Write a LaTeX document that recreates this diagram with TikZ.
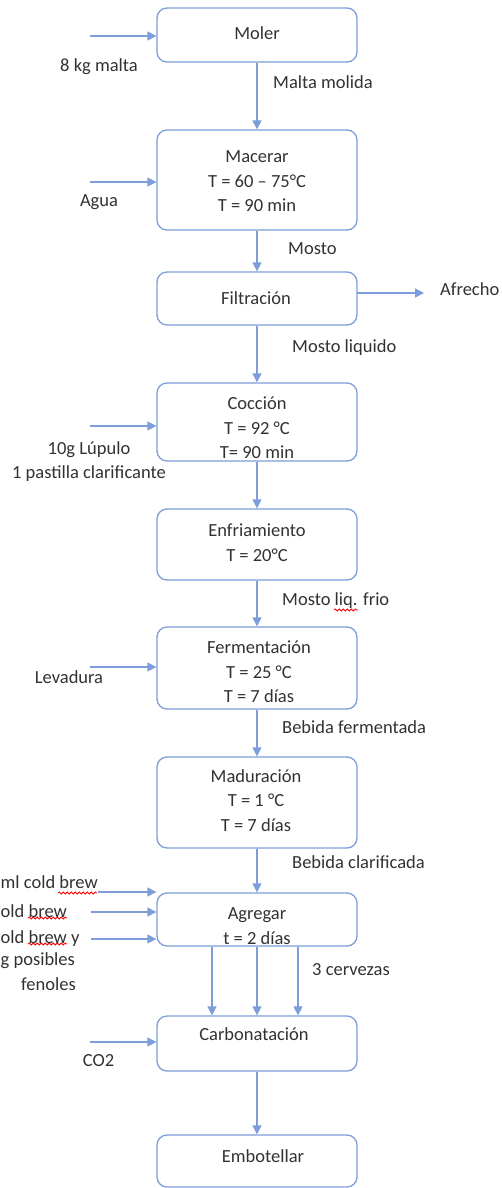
\documentclass[tikz,border=0pt]{standalone}
\usepackage{fontspec}
\setmainfont{Carlito}
\usetikzlibrary{arrows.meta,calc,decorations.pathmorphing}
\definecolor{flow}{RGB}{125,158,218}
\definecolor{txt}{RGB}{50,50,50}
\begin{document}
\begin{tikzpicture}[x=1pt,y=-1pt,
  box/.style={draw=flow, line width=1.3pt, rounded corners=10pt, minimum width=200pt, inner sep=0pt},
  lbl/.style={text=txt, font=\fontsize{18.5}{24.5}\selectfont, inner sep=0pt},
  one/.style={lbl, yshift=-2.5pt},
  arr/.style={draw=flow, line width=1.3pt, -{Triangle[length=9pt,width=9pt]}},
  wavy/.style={draw=red, line width=0.8pt, decorate, decoration={snake, segment length=4pt, amplitude=1.1pt}}
]
\fill[white] (0,0) rectangle (501,1188);
\useasboundingbox (0,0) rectangle (501,1188);

% process boxes
\node[box, minimum height=54pt] (moler) at (257,35) {};
\node[box, minimum height=100pt] (macerar) at (257,180) {};
\node[box, minimum height=53pt] (filtr) at (257,298.5) {};
\node[box, minimum height=78pt] (coccion) at (257,422) {};
\node[box, minimum height=71pt] (enfri) at (257,544.5) {};
\node[box, minimum height=82pt] (ferm) at (257,668) {};
\node[box, minimum height=91pt] (madur) at (257,802.5) {};
\node[box, minimum height=53pt] (agreg) at (257,919.5) {};
\node[box, minimum height=55pt] (carbon) at (257,1043.5) {};
\node[box, minimum height=52pt] (embot) at (257,1161) {};

% box texts
\node[one, anchor=mid] (tmoler) at (257,35) {Moler};
\node[lbl, align=center] (tmacerar) at (257,181.5) {Macerar\\T = 60 – 75°C\\T = 90 min};
\node[one, anchor=mid] (tfiltr) at (256,300) {Filtración};
\node[lbl, align=center] (tcoccion) at (257,428) {Cocción\\T = 92 °C\\T= 90 min};
\node[lbl, align=center] (tenfri) at (257,542.5) {Enfriamiento\\T = 20°C};
\node[lbl, align=center] (tferm) at (259,672) {Fermentación\\T = 25 °C\\T = 7 días};
\node[lbl, align=center] (tmadur) at (256,800.5) {Maduración\\T = 1 °C\\T = 7 días};
\node[lbl, align=center] (tagreg) at (257,926) {Agregar\\t = 2 días};
\node[one, anchor=mid] (tcarbon) at (254,1036) {Carbonatación};
\node[one, anchor=mid] (tembot) at (263,1158) {Embotellar};

% main flow
\draw[arr] (moler) -- (macerar);
\draw[arr] (macerar) -- (filtr);
\draw[arr] (filtr) -- (coccion);
\draw[arr] (coccion) -- (enfri);
\draw[arr] (enfri) -- (ferm);
\draw[arr] (ferm) -- (madur);
\draw[arr] (madur) -- (agreg);
\draw[arr] ($(agreg.south)+(-45,0)$) -- ($(carbon.north)+(-45,0)$);
\draw[arr] (agreg) -- (carbon);
\draw[arr] ($(agreg.south)+(41,0)$) -- ($(carbon.north)+(41,0)$);
\draw[arr] (carbon) -- (embot);

% flow labels
\node[one, anchor=mid west] (lmalta) at (273,84) {Malta molida};
\node[one, anchor=mid west] (lmosto) at (288,250) {Mosto};
\node[one, anchor=mid west] (lmliq) at (292,348) {Mosto liquido};
\node[one, anchor=mid west] (lmfrio) at (282,601) {Mosto liq. frio};
\node[one, anchor=mid west] (lbfer) at (282,729) {Bebida fermentada};
\node[one, anchor=mid west] (lbcla) at (292,864) {Bebida clarificada};
\node[one, anchor=mid west] (lcerv) at (312,971) {3 cervezas};

% output
\node[one, anchor=mid west] (afrecho) at (440,291) {Afrecho};
\coordinate (afr0) at (357,293);
\coordinate (afr1) at (424,293);
\draw[arr] (afr0) -- (afr1);

% inputs
\coordinate (in1) at (90,36);
\draw[arr] (in1) -- (in1 -| moler.west);
\node[one, anchor=mid] (malta) at (99,67) {8 kg malta};

\coordinate (in2) at (90,182);
\draw[arr] (in2) -- (in2 -| macerar.west);
\node[one, anchor=mid] (agua) at (99,202) {Agua};

\coordinate (in3) at (90,426);
\draw[arr] (in3) -- (in3 -| coccion.west);
\node[lbl, align=center] (lupulo) at (89,461.5) {10g Lúpulo\\1 pastilla clarificante};

\coordinate (in4) at (90,667);
\draw[arr] (in4) -- (in4 -| ferm.west);
\node[one, anchor=mid] (levad) at (69,679) {Levadura};

\coordinate (in5) at (98,892);
\coordinate (in6) at (91,912);
\coordinate (in7) at (91,939);
\draw[arr] (in5) -- (in5 -| agreg.west);
\draw[arr] (in6) -- (in6 -| agreg.west);
\draw[arr] (in7) -- (in7 -| agreg.west);
\node[one, anchor=mid west] (cb1) at (0.5,884) {ml cold brew};
\node[one, anchor=mid west] (cb2) at (0.5,913) {old brew};
\node[one, anchor=mid west] (cb3) at (0.5,939) {old brew y};
\node[one, anchor=mid west] (cb4) at (0.5,961) {g posibles};
\node[one, anchor=mid east] (cb5) at (76,986) {fenoles};

\coordinate (in8) at (90,1042);
\draw[arr] (in8) -- (in8 -| carbon.west);
\node[one, anchor=mid] (co2) at (98.5,1062) {CO2};

% spell-check marks
\draw[wavy] (58,893) -- (97,893);
\draw[wavy] (28,918) -- (67,918);
\draw[wavy] (28,944) -- (67,944);
\draw[wavy] (334,610) -- (358,610);
\end{tikzpicture}
\end{document}
